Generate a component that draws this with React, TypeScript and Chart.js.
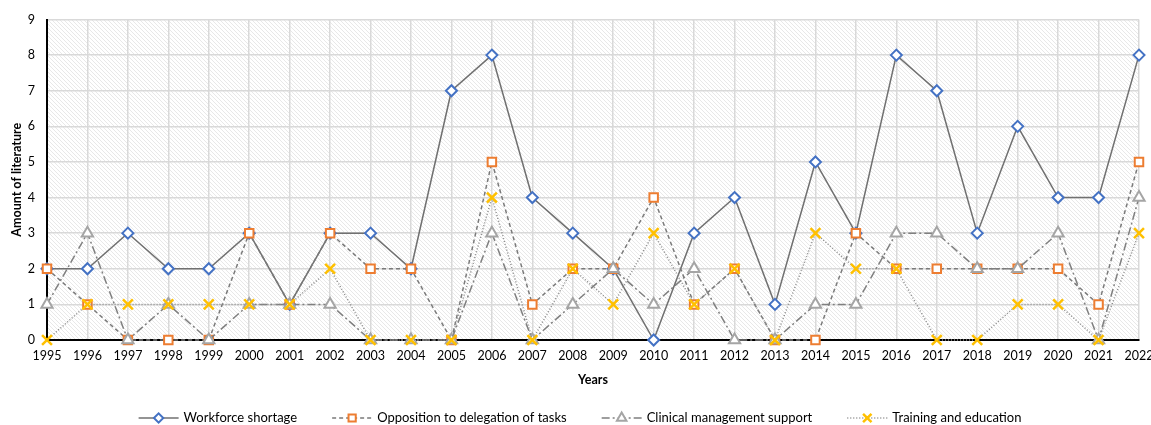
import React, { useEffect, useRef } from "react";
import { Chart, registerables } from "chart.js";
import { drawPoint } from "chart.js/helpers";

Chart.register(...registerables);

const years = ["1995","1996","1997","1998","1999","2000","2001","2002","2003","2004","2005","2006","2007","2008","2009","2010","2011","2012","2013","2014","2015","2016","2017","2018","2019","2020","2021","2022"];
const workforceShortage = [2,2,3,2,2,3,1,3,3,2,7,8,4,3,2,0,3,4,1,5,3,8,7,3,6,4,4,8];
const oppositionDelegation = [2,1,0,0,0,3,1,3,2,2,0,5,1,2,2,4,1,2,0,0,3,2,2,2,2,2,1,5];
const clinicalSupport = [1,3,0,1,0,1,1,1,0,0,0,3,0,1,2,1,2,0,0,1,1,3,3,2,2,3,0,4];
const trainingEducation = [0,1,1,1,1,1,1,2,0,0,0,4,0,2,1,3,1,2,0,3,2,2,0,0,1,1,0,3];
const yTicks = [0,1,2,3,4,5,6,7,8,9];

const FONT = "Lato, 'Open Sans', sans-serif";

export default function App() {
  const ref = useRef<HTMLCanvasElement | null>(null);
  useEffect(() => {
    document.body.style.margin = "0";
    const canvas = ref.current!;
    const pc = document.createElement("canvas");
    pc.width = 4; pc.height = 4;
    const p = pc.getContext("2d")!;
    p.fillStyle = "#ffffff";
    p.fillRect(0, 0, 4, 4);
    p.strokeStyle = "rgba(0,0,0,0.09)";
    p.lineWidth = 1;
    p.beginPath();
    p.moveTo(-1, -1); p.lineTo(5, 5);
    p.moveTo(-1, 3); p.lineTo(1, 5);
    p.moveTo(3, -1); p.lineTo(5, 1);
    p.stroke();
    const ctx0 = canvas.getContext("2d")!;
    const pattern = ctx0.createPattern(pc, "repeat")!;

    const series = [
      { label: "Workforce shortage", data: workforceShortage, line: "#707070", dash: [] as number[], marker: "#4472c4", style: "rectRot", radius: 5.5, bw: 2, order: 4 },
      { label: "Opposition to delegation of tasks", data: oppositionDelegation, line: "#7a7a7a", dash: [4, 3], marker: "#ed7d31", style: "rect", radius: 6, bw: 2, order: 3 },
      { label: "Clinical management support", data: clinicalSupport, line: "#7f7f7f", dash: [8, 3, 2, 3], marker: "#a5a5a5", style: "triangle", radius: 6.5, bw: 2, order: 2 },
      { label: "Training and education", data: trainingEducation, line: "#8a8a8a", dash: [1, 2], marker: "#ffc000", style: "crossRot", radius: 7, bw: 2.5, order: 1 },
    ];

    const decor = {
      id: "decor",
      beforeDraw(chart: any) {
        const { ctx, chartArea: a } = chart;
        ctx.save();
        ctx.fillStyle = pattern;
        ctx.fillRect(a.left, a.top, a.right - a.left, a.bottom - a.top);
        ctx.restore();
      },
      afterDraw(chart: any) {
        const { ctx, chartArea: a } = chart;
        ctx.save();
        ctx.fillStyle = "#000";
        ctx.font = `bold 12.5px ${FONT}`;
        ctx.textAlign = "center";
        ctx.textBaseline = "middle";
        ctx.fillText("Years", (a.left + a.right) / 2, 380);
        ctx.save();
        ctx.translate(17, (a.top + a.bottom) / 2);
        ctx.rotate(-Math.PI / 2);
        ctx.fillText("Amount of literature", 0, 0);
        ctx.restore();

        // legend
        ctx.font = `13px ${FONT}`;
        const lineLen = 40, gapText = 5, gapItem = 35;
        const widths = series.map((s) => lineLen + gapText + ctx.measureText(s.label).width);
        const total = widths.reduce((x, y) => x + y, 0) + gapItem * (series.length - 1);
        let x = 580 - total / 2;
        const y = 418;
        series.forEach((s, i) => {
          ctx.save();
          ctx.strokeStyle = s.line;
          ctx.lineWidth = 1.5;
          ctx.setLineDash(s.dash);
          ctx.beginPath();
          ctx.moveTo(x, y);
          ctx.lineTo(x + lineLen, y);
          ctx.stroke();
          ctx.setLineDash([]);
          ctx.fillStyle = "#fff";
          ctx.strokeStyle = s.marker;
          ctx.lineWidth = s.bw;
          drawPoint(ctx, { pointStyle: s.style as any, radius: s.radius * 0.85, rotation: 0, borderWidth: s.bw }, x + lineLen / 2, y);
          ctx.restore();
          ctx.fillStyle = "#000";
          ctx.textAlign = "left";
          ctx.textBaseline = "middle";
          ctx.fillText(s.label, x + lineLen + gapText, y);
          x += widths[i] + gapItem;
        });
        ctx.restore();
      },
    };

    const chart = new Chart(canvas, {
      type: "line",
      data: {
        labels: years,
        datasets: series.map((s) => ({
          label: s.label,
          data: s.data,
          borderColor: s.line,
          borderWidth: 1.5,
          borderDash: s.dash,
          pointStyle: s.style as any,
          pointRadius: s.radius,
          pointBorderColor: s.marker,
          pointBackgroundColor: "#ffffff",
          pointBorderWidth: s.bw,
          tension: 0,
          fill: false,
          order: s.order,
          clip: false as any,
        })),
      },
      options: {
        animation: false,
        responsive: false,
        maintainAspectRatio: false,
        layout: { padding: { left: 0, right: 0, top: 17, bottom: 0 } },
        plugins: { legend: { display: false }, tooltip: { enabled: false } },
        scales: {
          x: {
            offset: false,
            grid: { color: "#d9d9d9", lineWidth: 1.5, drawTicks: false },
            border: { color: "#000", width: 2 },
            ticks: { color: "#000", font: { family: FONT, size: 12.5 }, padding: 8, maxRotation: 0, autoSkip: false },
            afterFit(scale: any) { scale.height = 85; scale.paddingRight = 12; scale.paddingLeft = 0; },
          },
          y: {
            min: 0,
            max: 9,
            afterBuildTicks(scale: any) { scale.ticks = yTicks.map((v) => ({ value: v })); },
            grid: { color: "#d9d9d9", lineWidth: 1.5, drawTicks: false },
            border: { color: "#000", width: 2 },
            ticks: { color: "#000", font: { family: FONT, size: 12.5 }, padding: 12 },
            afterFit(scale: any) { scale.width = 47; },
          },
        },
      },
      plugins: [decor],
    });
    return () => chart.destroy();
  }, []);
  return (
    <div style={{ width: 1151, height: 425 }}>
      <canvas ref={ref} width={1151} height={425} style={{ display: "block" }} />
    </div>
  );
}
